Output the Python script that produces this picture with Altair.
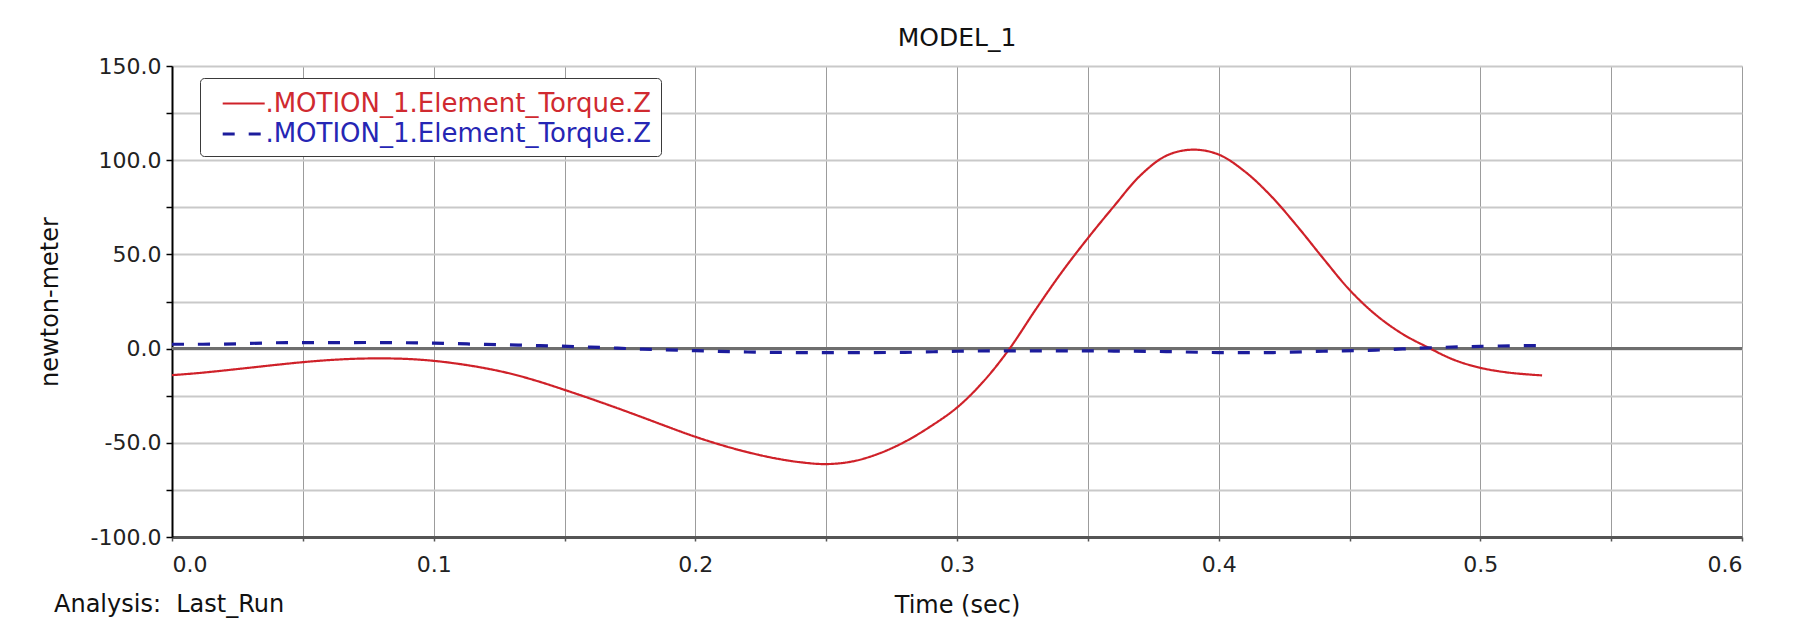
import altair as alt
import pandas as pd

# ---- data ----
time_red = [0.00, 0.01, 0.02, 0.03, 0.04, 0.05, 0.06, 0.07, 0.08, 0.09,
            0.10, 0.11, 0.12, 0.13, 0.14, 0.15, 0.16, 0.17, 0.18, 0.19,
            0.20, 0.21, 0.22, 0.23, 0.24, 0.25, 0.26, 0.27, 0.28, 0.29,
            0.30, 0.31, 0.32, 0.33, 0.34, 0.35, 0.36, 0.37, 0.38, 0.39,
            0.40, 0.41, 0.42, 0.43, 0.44, 0.45, 0.46, 0.47, 0.48, 0.49,
            0.50, 0.51, 0.52, 0.5236]
torque_red = [-14.1, -13.0, -11.6, -10.1, -8.6, -7.2, -6.1, -5.4, -5.2, -5.5,
              -6.5, -8.2, -10.5, -13.5, -17.4, -21.9, -26.6, -31.5, -36.6, -41.8,
              -46.8, -51.2, -55.0, -58.1, -60.3, -61.3, -59.9, -55.8, -49.5, -41.2,
              -31.3, -17.6, -0.2, 20.6, 40.5, 58.6, 75.6, 91.8, 102.4, 105.6,
              103.0, 94.0, 81.0, 65.0, 47.8, 31.2, 18.0, 8.0, 0.6, -6.0,
              -10.2, -12.6, -13.9, -14.2]

time_blue = [0.00, 0.02, 0.04, 0.06, 0.08, 0.10, 0.12, 0.14, 0.16, 0.18,
             0.20, 0.22, 0.24, 0.26, 0.28, 0.30, 0.32, 0.34, 0.36, 0.38,
             0.40, 0.42, 0.44, 0.46, 0.48, 0.50, 0.52, 0.5236]
torque_blue = [2.3, 2.4, 3.1, 3.2, 3.2, 2.9, 2.2, 1.6, 0.8, -0.3,
               -1.1, -1.8, -2.1, -2.1, -2.0, -1.4, -1.2, -1.2, -1.3, -1.6,
               -2.1, -2.1, -1.4, -0.8, 0.4, 1.2, 1.6, 1.6]

series_keys = ["solid", "dashed"]
series_labels = [".MOTION_1.Element_Torque.Z", ".MOTION_1.Element_Torque.Z"]
series_colors = ["#cf2129", "#1c1c9c"]
label_colors = ["#d02a30", "#2626b4"]
series_dash = [[1, 0], [12, 14]]
series_width = [2.2, 3.2]

y_ticks = [-100, -75, -50, -25, 0, 25, 50, 75, 100, 125, 150]
x_ticks = [0.0, 0.05, 0.1, 0.15, 0.2, 0.25, 0.3, 0.35, 0.4, 0.45, 0.5, 0.55, 0.6]

chart_title = "MODEL_1"
x_title = "Time (sec)"
y_title = "newton-meter"
analysis_text = "Analysis:\u00a0 Last_Run"

FONT = "DejaVu Sans"

rows = []
for t, v in zip(time_red, torque_red):
    rows.append({"t": t, "v": v, "series": series_keys[0]})
for t, v in zip(time_blue, torque_blue):
    rows.append({"t": t, "v": v, "series": series_keys[1]})
df = pd.DataFrame(rows)

W, H = 1570, 471

PADR = "\u00a0\u00a0\u00a0\u00a0"
label_expr = (f"(datum.value == '{series_keys[0]}' ? '{series_labels[0]}' : '{series_labels[1]}') + '{PADR}'")
label_color_expr = f"datum.value == '{series_keys[0]}' ? '{label_colors[0]}' : '{label_colors[1]}'"

legend = alt.Legend(
    title=None, orient="none", legendX=28, legendY=12, direction="vertical",
    fillColor="white", strokeColor="#3a3a3a", cornerRadius=4, padding=9,
    symbolType="M-1.4,0H1.4", symbolSize=900, symbolStrokeWidth=2.6, symbolOffset=17.7,
    labelFont=FONT, labelFontSize=26, labelOffset=4.7, rowPadding=-2, labelLimit=900,
    labelExpr=label_expr, labelColor=alt.ExprRef(label_color_expr),
)

x_enc = alt.X(
    "t:Q",
    scale=alt.Scale(domain=[0, 0.6], nice=False, zero=False),
    axis=alt.Axis(
        values=x_ticks, title=x_title,
        labelExpr="abs(datum.value*10 - round(datum.value*10)) < 0.001 ? format(datum.value, '.1f') : ''",
        grid=True, gridColor="#9c9c9c", gridWidth=1,
        domainColor="#555555", domainWidth=3,
        tickColor="#555555", tickSize=4, tickWidth=1.5,
        labelFont=FONT, labelFontSize=22, labelColor="#222222", labelPadding=13,
        titleFont=FONT, titleFontSize=24, titleFontWeight="normal", titleColor="#111111",
        titleX=W / 2, titleY=68, titleAlign="center", titleBaseline="middle",
    ),
)
y_enc = alt.Y(
    "v:Q",
    scale=alt.Scale(domain=[-100, 150], nice=False, zero=False),
    axis=alt.Axis(
        values=y_ticks, title=y_title,
        labelExpr="datum.value % 50 == 0 ? (datum.value < 0 ? '-' + format(abs(datum.value), '.1f') : format(datum.value, '.1f')) : ''",
        grid=True, gridColor="#c9c9c9", gridWidth=2,
        domainColor="#000000", domainWidth=2,
        tickColor="#000000", tickSize=6, tickWidth=1.5,
        labelFont=FONT, labelFontSize=22, labelColor="#222222", labelPadding=5,
        titleFont=FONT, titleFontSize=24, titleFontWeight="normal", titleColor="#111111",
        titleX=-122, titleY=H / 2, titleAngle=270, titleAlign="center", titleBaseline="middle",
    ),
)

zero_rule = alt.Chart(df).mark_rule(color="#6e6e6e", strokeWidth=2).encode(
    y=alt.datum(0)
)

lines = alt.Chart(df).mark_line(interpolate="catmull-rom").encode(
    x=x_enc,
    y=y_enc,
    color=alt.Color("series:N", scale=alt.Scale(domain=series_keys, range=series_colors), legend=legend),
    strokeDash=alt.StrokeDash("series:N", scale=alt.Scale(domain=series_keys, range=series_dash), legend=legend),
    strokeWidth=alt.StrokeWidth("series:N", scale=alt.Scale(domain=series_keys, range=series_width), legend=None),
    order=alt.Order("t:Q"),
)

analysis = alt.Chart(pd.DataFrame({"txt": [analysis_text]})).mark_text(
    align="left", baseline="middle", font=FONT, fontSize=24, color="#111111"
).encode(
    x=alt.value(-118), y=alt.value(538.5), text="txt:N"
)

chart = alt.layer(zero_rule, lines, analysis).properties(
    width=W, height=H,
    title=alt.Title(chart_title, anchor="middle", frame="group", font=FONT, fontSize=25,
                    fontWeight="normal", color="#111111", offset=-16, baseline="alphabetic"),
    autosize=alt.AutoSizeParams(type="none"),
    padding={"left": 164, "top": 58, "right": 40, "bottom": 90},
).configure_view(
    stroke="#2a2a2a", strokeWidth=2
).configure(background="white")

chart.save("out.html", embed_options={"renderer": "svg", "actions": False})
